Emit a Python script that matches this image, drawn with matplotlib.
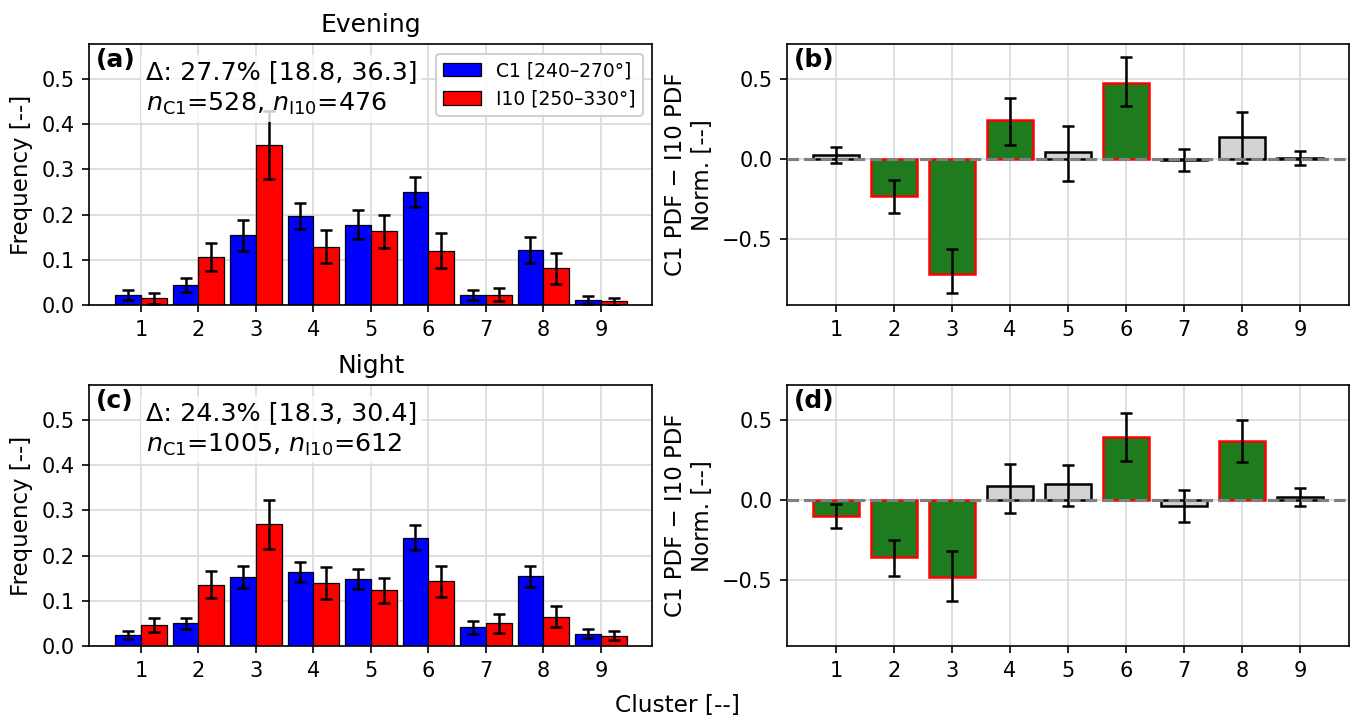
import matplotlib
matplotlib.use("Agg")
import matplotlib.pyplot as plt
from matplotlib.patches import Patch
import numpy as np

# ---------------- data ----------------
clusters = [1, 2, 3, 4, 5, 6, 7, 8, 9]

# Evening frequencies
eve_c1 = [0.022, 0.044, 0.154, 0.197, 0.178, 0.251, 0.022, 0.121, 0.011]
eve_c1_err = [0.012, 0.015, 0.034, 0.028, 0.032, 0.033, 0.012, 0.029, 0.008]
eve_i10 = [0.015, 0.106, 0.354, 0.129, 0.163, 0.120, 0.023, 0.081, 0.008]
eve_i10_err = [0.012, 0.031, 0.076, 0.037, 0.037, 0.039, 0.014, 0.035, 0.008]

# Night frequencies
night_c1 = [0.024, 0.050, 0.152, 0.163, 0.148, 0.240, 0.041, 0.154, 0.027]
night_c1_err = [0.009, 0.013, 0.024, 0.022, 0.022, 0.027, 0.015, 0.024, 0.010]
night_i10 = [0.047, 0.136, 0.269, 0.140, 0.123, 0.143, 0.050, 0.065, 0.023]
night_i10_err = [0.016, 0.030, 0.054, 0.035, 0.028, 0.034, 0.021, 0.023, 0.010]

# Normalised PDF differences with CI bounds
eve_diff = [0.025, -0.234, -0.718, 0.241, 0.046, 0.475, -0.005, 0.139, 0.008]
eve_diff_lo = [-0.028, -0.336, -0.838, 0.089, -0.141, 0.330, -0.077, -0.023, -0.035]
eve_diff_hi = [0.077, -0.131, -0.564, 0.382, 0.205, 0.639, 0.062, 0.295, 0.052]

night_diff = [-0.100, -0.357, -0.481, 0.087, 0.100, 0.394, -0.037, 0.369, 0.017]
night_diff_lo = [-0.178, -0.477, -0.635, -0.079, -0.037, 0.245, -0.137, 0.239, -0.039]
night_diff_hi = [-0.023, -0.249, -0.317, 0.228, 0.218, 0.546, 0.064, 0.500, 0.073]

legend_labels = ["C1 [240\u2013270\u00b0]", "I10 [250\u2013330\u00b0]"]
row_titles = ["Evening", "Night"]
delta_text = ["\u0394: 27.7% [18.8, 36.3]", "\u0394: 24.3% [18.3, 30.4]"]
n_text = ["$n_{\\mathrm{C1}}$=528, $n_{\\mathrm{I10}}$=476",
          "$n_{\\mathrm{C1}}$=1005, $n_{\\mathrm{I10}}$=612"]

# ---------------- style ----------------
plt.rcParams["font.family"] = ["DejaVu Sans"]
plt.rcParams["font.size"] = 10

W, H, DPI = 1354, 717, 150
fig = plt.figure(figsize=(W / DPI, H / DPI), dpi=DPI)

ax_a = fig.add_axes([0.0661, 0.5746, 0.4157, 0.3636])
ax_b = fig.add_axes([0.5815, 0.5746, 0.4145, 0.3636])
ax_c = fig.add_axes([0.0661, 0.0990, 0.4157, 0.3636])
ax_d = fig.add_axes([0.5815, 0.0990, 0.4145, 0.3636])

x = np.array(clusters, dtype=float)
bw = 0.45
ekw = dict(ecolor="black", elinewidth=1.2, capsize=3, capthick=1.2)
box = dict(facecolor="white", edgecolor="none", alpha=0.8, pad=2.5)


def freq_panel(ax, c1, c1e, i10, i10e, label, title, t1, t2, legend):
    ax.bar(x - bw / 2, c1, bw, color="blue", edgecolor="black", linewidth=0.6,
           yerr=c1e, error_kw=ekw, zorder=2)
    ax.bar(x + bw / 2, i10, bw, color="red", edgecolor="black", linewidth=0.6,
           yerr=i10e, error_kw=ekw, zorder=2)
    ax.set_xticks(clusters)
    ax.set_ylim(0, 0.577)
    ax.set_yticks([0.0, 0.1, 0.2, 0.3, 0.4, 0.5])
    ax.grid(True, color="#d9d9d9", linewidth=0.8, zorder=0)
    ax.set_axisbelow(True)
    ax.set_ylabel("Frequency [--]", fontsize=11)
    ax.set_title(title, fontsize=12)
    ax.text(0.012, 0.985, label, transform=ax.transAxes, fontsize=12,
            fontweight="bold", va="top", ha="left", zorder=5)
    ax.text(0.100, 0.867, t1, transform=ax.transAxes, fontsize=12.2,
            va="baseline", ha="left", zorder=6, bbox=box)
    ax.text(0.100, 0.745, t2, transform=ax.transAxes, fontsize=12.2,
            va="baseline", ha="left", zorder=6, bbox=box)
    if legend:
        handles = [Patch(facecolor="blue", edgecolor="black", linewidth=0.6),
                   Patch(facecolor="red", edgecolor="black", linewidth=0.6)]
        ax.legend(handles, legend_labels, loc="upper right", fontsize=9,
                  framealpha=0.9)


def diff_panel(ax, d, lo, hi, label):
    d = np.array(d)
    lo = np.array(lo)
    hi = np.array(hi)
    sig = (lo > 0) | (hi < 0)
    fc = ["#1e7b1e" if s else "#d3d3d3" for s in sig]
    ec = ["red" if s else "black" for s in sig]
    ax.bar(x, d, 0.8, color=fc, edgecolor=ec, linewidth=1.2, zorder=2)
    ax.errorbar(x, d, yerr=[d - lo, hi - d], fmt="none", zorder=3, **ekw)
    ax.axhline(0, color="gray", linestyle="--", linewidth=1.5, zorder=4)
    ax.set_xticks(clusters)
    ax.set_ylim(-0.915, 0.718)
    ax.set_yticks([-0.5, 0.0, 0.5])
    ax.grid(True, color="#d9d9d9", linewidth=0.8, zorder=0)
    ax.set_axisbelow(True)
    ax.set_ylabel("C1 PDF \u2212 I10 PDF\nNorm. [--]", fontsize=11)
    ax.text(0.012, 0.985, label, transform=ax.transAxes, fontsize=12,
            fontweight="bold", va="top", ha="left", zorder=5)


freq_panel(ax_a, eve_c1, eve_c1_err, eve_i10, eve_i10_err, "(a)",
           row_titles[0], delta_text[0], n_text[0], True)
freq_panel(ax_c, night_c1, night_c1_err, night_i10, night_i10_err, "(c)",
           row_titles[1], delta_text[1], n_text[1], False)
diff_panel(ax_b, eve_diff, eve_diff_lo, eve_diff_hi, "(b)")
diff_panel(ax_d, night_diff, night_diff_lo, night_diff_hi, "(d)")

fig.text(0.5, 0.016, "Cluster [--]", ha="center", va="center", fontsize=11.2)

fig.savefig("out.png", dpi=DPI)
